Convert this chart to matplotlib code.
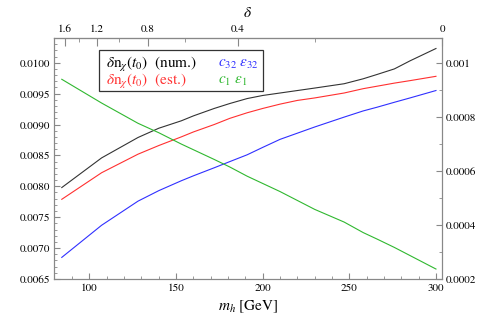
import numpy as np
import matplotlib
matplotlib.use("Agg")
import matplotlib.pyplot as plt
from matplotlib.patches import Rectangle

plt.rcParams['font.family'] = 'STIXGeneral'
plt.rcParams['mathtext.fontset'] = 'stix'

# data
m_h = [84, 107, 128, 140, 153, 160, 172, 181, 191, 200, 210, 220, 230, 247, 258, 266, 276, 285, 300]
dn_num = [0.00798, 0.00846, 0.00879, 0.00894, 0.00906, 0.00914, 0.00926, 0.00934, 0.00942, 0.00947,
          0.00951, 0.00955, 0.00959, 0.00966, 0.00974, 0.00981, 0.00990, 0.01003, 0.01023]
dn_est = [0.00779, 0.00822, 0.00852, 0.00866, 0.00880, 0.00888, 0.00900, 0.00910, 0.00919, 0.00926,
          0.00933, 0.00939, 0.00943, 0.00951, 0.00958, 0.00962, 0.00967, 0.00971, 0.00978]
c32_e32 = [0.00685, 0.00737, 0.00776, 0.00793, 0.00809, 0.00817, 0.00830, 0.00840, 0.00851, 0.00863,
           0.00876, 0.00886, 0.00896, 0.00912, 0.00922, 0.00928, 0.00936, 0.00943, 0.00955]
c1_e1 = [0.000940, 0.000852, 0.000777, 0.000742, 0.000700, 0.000679, 0.000643, 0.000615, 0.000581, 0.000554,
         0.000524, 0.000491, 0.000458, 0.000411, 0.000372, 0.000348, 0.000317, 0.000287, 0.000237]

left_ticks = [0.0065, 0.0070, 0.0075, 0.0080, 0.0085, 0.0090, 0.0095, 0.0100]
left_labels = ["0.0065", "0.0070", "0.0075", "0.0080", "0.0085", "0.0090", "0.0095", "0.0100"]
right_ticks = [0.0002, 0.0004, 0.0006, 0.0008, 0.001]
right_labels = ["0.0002", "0.0004", "0.0006", "0.0008", "0.001"]
delta_major = [1.6, 1.2, 0.8, 0.4, 0.0]
delta_labels = ["1.6", "1.2", "0.8", "0.4", "0"]
delta_minor = [1.4, 1.0, 0.6, 0.2]

# delta vs m_h mapping (top axis)
A = 190.7
M0 = 303.5

def m_to_delta(m):
    m = np.asarray(m, dtype=float)
    with np.errstate(divide='ignore', invalid='ignore'):
        return A / m - A / M0

def delta_to_m(d):
    d = np.asarray(d, dtype=float)
    with np.errstate(divide='ignore', invalid='ignore'):
        return A / (d + A / M0)

frame = '#888888'
fig = plt.figure(figsize=(4.98, 3.18), dpi=100)
ax = fig.add_axes([0.1084, 0.1226, 0.7792, 0.7579])
ax2 = ax.twinx()

ax.plot(m_h, dn_num, color='#333333', lw=0.8)
ax.plot(m_h, dn_est, color='#ff3030', lw=0.8)
ax.plot(m_h, c32_e32, color='#3030ff', lw=0.8)
ax2.plot(m_h, c1_e1, color='#30b830', lw=0.8)

ax.set_xlim(79.5, 303.5)
ax.set_ylim(0.0065, 0.0104)
ax2.set_ylim(0.0002, 0.001093)

ax.set_xticks([100, 150, 200, 250, 300])
ax.set_xticks(np.arange(90, 301, 10), minor=True)
ax.set_yticks(left_ticks, left_labels)
ax.set_yticks(np.arange(0.0065, 0.01041, 0.0001), minor=True)
ax2.set_yticks(right_ticks, right_labels)
ax2.set_yticks(np.arange(0.0002, 0.00109, 0.0001), minor=True)

top = ax.secondary_xaxis('top', functions=(m_to_delta, delta_to_m))
top.set_xticks(delta_major, delta_labels)
top.set_xticks(delta_minor, minor=True)

for a in (ax, ax2):
    for s in a.spines.values():
        s.set_color(frame)
        s.set_linewidth(0.8)
ax.tick_params(axis='both', which='both', direction='in', color=frame, labelsize=8, pad=3)
ax.tick_params(which='major', length=4)
ax.tick_params(which='minor', length=2)
ax.tick_params(axis='x', top=False)
ax2.tick_params(axis='y', which='both', direction='in', color=frame, labelsize=8, pad=3)
ax2.tick_params(which='major', length=4)
ax2.tick_params(which='minor', length=2)
top.tick_params(which='both', direction='in', color=frame, labelsize=8, pad=3)
top.tick_params(which='major', length=6)
top.tick_params(which='minor', length=3)
top.spines['top'].set_color(frame)

ax.set_xlabel(r'$m_h$ [GeV]', fontsize=11, labelpad=4)
top.set_xlabel(r'$\delta$', fontsize=11, labelpad=5)

# legend box
ax2.add_patch(Rectangle((0.116, 0.780), 0.423, 0.170, transform=ax2.transAxes,
                        fill=False, edgecolor='#333333', lw=0.9, zorder=5))
ax2.text(0.134, 0.892, r'$\delta\mathrm{n}_{\chi}(t_0)$  (num.)', transform=ax2.transAxes,
         color='black', fontsize=11, va='center')
ax2.text(0.134, 0.820, r'$\delta\mathrm{n}_{\chi}(t_0)$  (est.)', transform=ax2.transAxes,
         color='#ff3030', fontsize=11, va='center')
ax2.text(0.423, 0.892, r'$c_{32}\ \epsilon_{32}$', transform=ax2.transAxes,
         color='#3030ff', fontsize=11, va='center')
ax2.text(0.423, 0.820, r'$c_1\ \epsilon_1$', transform=ax2.transAxes,
         color='#30b830', fontsize=11, va='center')

fig.savefig('out.png', dpi=100)
